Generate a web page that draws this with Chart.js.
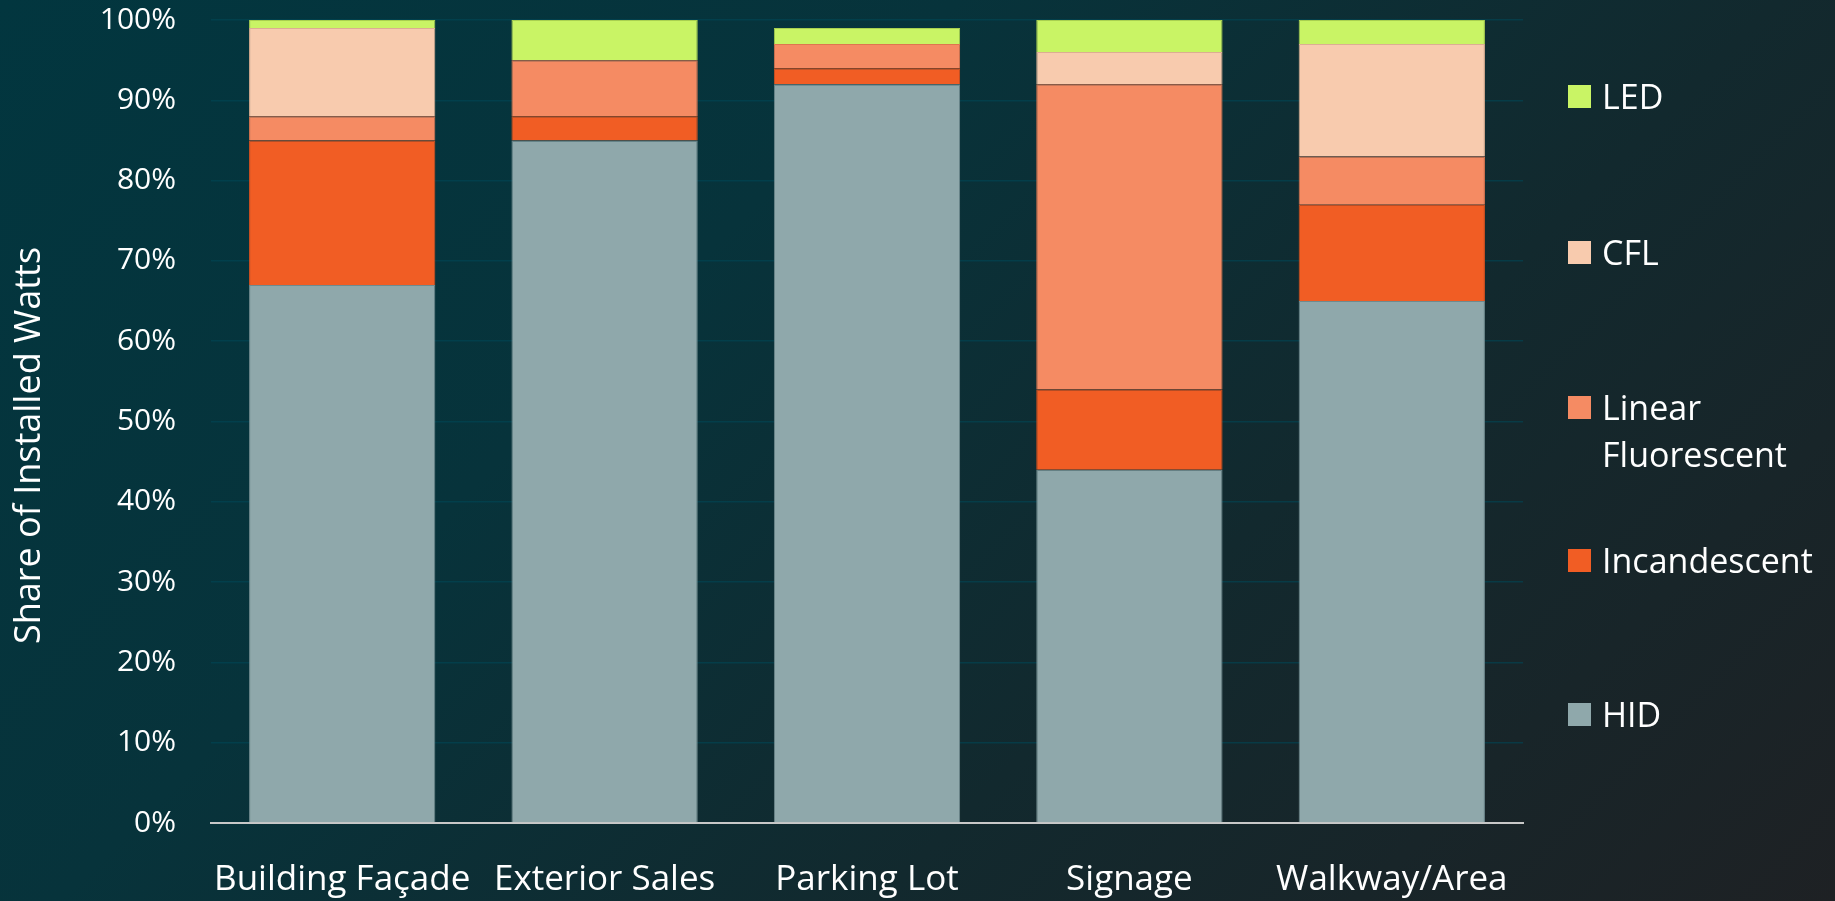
<!DOCTYPE html>
<html>
<head>
<meta charset="utf-8">
<script src="https://cdn.jsdelivr.net/npm/chart.js@4.4.1/dist/chart.umd.min.js"></script>
<style>
  html, body { margin: 0; padding: 0; }
  body {
    width: 1835px; height: 901px; overflow: hidden; position: relative;
    background: linear-gradient(135deg, #02363f 0%, #07333b 35%, #12292e 65%, #1e2124 100%);
    font-family: "Open Sans", sans-serif;
  }
  #c { position: absolute; left: 0; top: 0; }
  #legend { position: absolute; left: 0; top: 0; width: 1835px; height: 901px; pointer-events: none; }
  .item { position: absolute; left: 1568px; display: flex; align-items: flex-start; color: #ffffff; font-size: 34px; line-height: 47px; }
  .sw { width: 23px; height: 23px; margin-top: 12px; margin-right: 11px; flex: none; }
</style>
</head>
<body>
<canvas id="c" width="1835" height="901"></canvas>
<div id="legend"></div>
<script>
const categories = ["Building Façade", "Exterior Sales", "Parking Lot", "Signage", "Walkway/Area"];
const seriesNames = ["HID", "Incandescent", "Linear Fluorescent", "CFL", "LED"];
const hid          = [67, 85, 92, 44, 65];
const incandescent = [18,  3,  2, 10, 12];
const linearFluor  = [ 3,  7,  3, 38,  6];
const cfl          = [11,  0,  0,  4, 14];
const led          = [ 1,  5,  2,  4,  3];
const yTicks = [0, 10, 20, 30, 40, 50, 60, 70, 80, 90, 100];
const yTitle = "Share of Installed Watts";

const colors  = ["#8fa8ab", "#f15d24", "#f58b63", "#f8cbae", "#c9f465"];
const borders = ["#6f8a8e", "#d9521f", "#de7650", "#dcae92", "#a9d050"];
const values = [hid, incandescent, linearFluor, cfl, led];
const legendLines = [["HID"], ["Incandescent"], ["Linear", "Fluorescent"], ["CFL"], ["LED"]];

const datasets = seriesNames.map((n, i) => ({
  label: n,
  data: values[i],
  backgroundColor: colors[i],
  borderColor: borders[i],
  borderWidth: 1,
  categoryPercentage: 1.0,
  barPercentage: 0.71
}));

// y-axis title drawn beside the scale (slightly below centre, as in the reference)
const yTitlePlugin = {
  id: 'yTitle',
  afterDraw(chart) {
    const ctx = chart.ctx;
    const ys = chart.scales.y;
    ctx.save();
    ctx.translate(30, (ys.top + ys.bottom) / 2 + 24);
    ctx.rotate(-Math.PI / 2);
    ctx.fillStyle = '#ffffff';
    ctx.font = '36px "Open Sans"';
    ctx.textAlign = 'center';
    ctx.textBaseline = 'middle';
    ctx.fillText(yTitle, 0, 0);
    ctx.restore();
  }
};

const chart = new Chart(document.getElementById('c'), {
  type: 'bar',
  data: { labels: categories, datasets },
  plugins: [yTitlePlugin],
  options: {
    responsive: false,
    animation: false,
    layout: { padding: { left: 0, right: 312, top: 20, bottom: 0 } },
    plugins: { legend: { display: false }, tooltip: { enabled: false } },
    scales: {
      x: {
        stacked: true,
        grid: { display: false },
        border: { display: true, color: '#c8c8c8', width: 2 },
        ticks: { color: '#ffffff', font: { family: 'Open Sans', size: 35 }, padding: 28, maxRotation: 0, autoSkip: false },
        afterFit: (s) => { s.height = 78; s.paddingLeft = 0; s.paddingRight = 0; }
      },
      y: {
        stacked: true,
        min: 0, max: 100,
        afterBuildTicks: (s) => { s.ticks = yTicks.map(v => ({ value: v })); },
        grid: { color: 'rgba(0,72,86,0.6)', lineWidth: 1.5, drawTicks: false },
        border: { display: false },
        ticks: { color: '#ffffff', font: { family: 'Open Sans', size: 30 }, padding: 35, callback: (v) => v + '%' },
        title: { display: false },
        afterFit: (s) => { s.width = 211; s.paddingTop = 0; s.paddingBottom = 0; }
      }
    }
  }
});

// HTML legend (reversed order: LED on top)
const legend = document.getElementById('legend');
const tops = [714, 560, 407, 252, 96]; // centre of first text line per series index
chart.data.datasets.forEach((ds, i) => {
  const it = document.createElement('div');
  it.className = 'item';
  it.style.top = (tops[i] - 23.5) + 'px';
  const sw = document.createElement('div');
  sw.className = 'sw';
  sw.style.background = ds.backgroundColor;
  const tx = document.createElement('div');
  tx.innerHTML = legendLines[i].join('<br>');
  it.appendChild(sw); it.appendChild(tx);
  legend.appendChild(it);
});
</script>
</body>
</html>
